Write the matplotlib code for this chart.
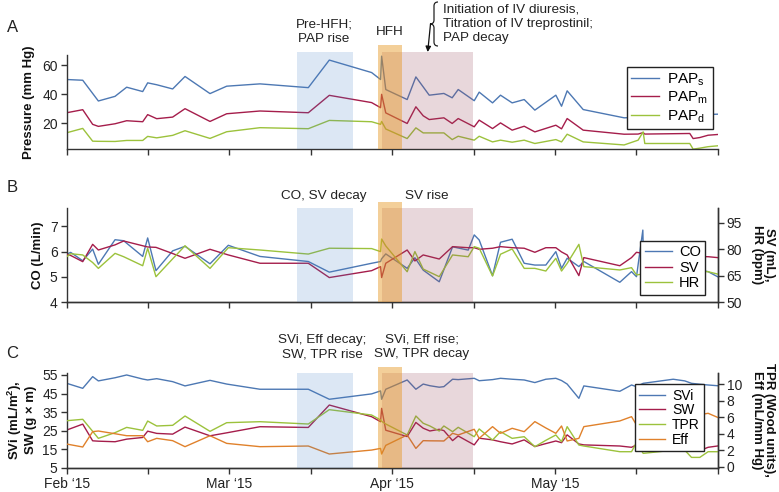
import matplotlib
matplotlib.use("Agg")
import matplotlib.pyplot as plt
from matplotlib.path import Path
from matplotlib.patches import PathPatch, FancyArrowPatch

plt.rcParams['font.family'] = ['Liberation Sans', 'DejaVu Sans']
plt.rcParams['font.size'] = 9.5

# ---------------- data (x in half-month units: 0=Feb '15, 2=Mar, 4=Apr, 6=May) -------------
month_ticks = [0, 1, 2, 3, 4, 5, 6, 7, 8]
month_labels = ["Feb \u201815", "", "Mar \u201815", "", "Apr \u201815", "", "May \u201815", "", ""]

# event windows
prehfh_span = (2.826, 3.514)
hfh_span = (3.828, 4.115)
iv_span = (3.870, 4.995)

# Panel A
t_a = [0, 0.197, 0.319, 0.389, 0.594, 0.737, 0.934, 0.995, 1.106, 1.302, 1.454, 1.761, 1.966,
       2.375, 2.969, 3.227, 3.747, 3.857, 3.870, 3.921, 4.184, 4.291, 4.381, 4.455, 4.635,
       4.737, 4.811, 5.008, 5.069, 5.233, 5.331, 5.474, 5.622, 5.753, 6.011, 6.081, 6.150,
       6.347, 6.85, 7.022, 7.084, 7.104, 7.657, 7.698, 7.780, 7.882, 7.998]
paps = [50.1, 49.6, 40.5, 35.3, 38.5, 44.8, 41.8, 47.8, 46.5, 43.6, 52.2, 40.4, 45.5, 47.1,
        44.5, 63.5, 54.9, 50.1, 66.2, 43.2, 36.3, 51.9, 45.0, 39.3, 40.5, 37.5, 43.2, 35.5,
        41.4, 34.0, 39.3, 34.0, 36.3, 29.0, 39.3, 31.7, 42.3, 29.4, 23.7, 24.0, 25.0, 25.0,
        26.0, 25.0, 25.5, 26.0, 26.2]
papm = [27.2, 29.3, 19.2, 17.8, 19.6, 21.7, 21.0, 25.9, 23.1, 24.2, 30.0, 21.2, 26.5, 28.4,
        27.2, 39.2, 34.2, 30.7, 39.9, 27.1, 19.8, 31.3, 25.1, 22.5, 23.7, 19.8, 23.2, 17.5,
        22.1, 16.3, 20.2, 15.2, 17.9, 14.0, 18.6, 16.1, 23.2, 15.2, 12.4, 12.5, 13.5, 12.5,
        12.9, 9.4, 10.1, 11.7, 12.2]
papd = [13.4, 16.4, 7.6, 7.5, 7.4, 8.1, 8.1, 10.9, 9.9, 11.6, 14.8, 9.5, 14.1, 16.9, 16.2,
        21.9, 21.0, 19.2, 21.2, 16.0, 9.4, 16.8, 13.3, 13.3, 13.3, 8.7, 11.0, 8.3, 11.0, 7.1,
        8.3, 6.9, 8.3, 6.0, 8.7, 7.1, 12.4, 7.1, 5.0, 8.3, 14.0, 6.0, 6.0, 2.1, 2.8, 3.8, 4.4]

# Panel B
t_b = [0, 0.049, 0.197, 0.319, 0.389, 0.594, 0.70, 0.934, 0.995, 1.097, 1.302, 1.454, 1.761,
       1.986, 2.375, 2.969, 3.227, 3.747, 3.857, 3.870, 3.921,
       4.184, 4.279, 4.381, 4.578, 4.742, 4.934, 5.008, 5.069, 5.233, 5.331, 5.474, 5.622,
       5.753, 5.888, 6.011, 6.081, 6.150, 6.294, 6.355, 6.797, 6.941, 7.002, 7.08, 7.09,
       7.3, 7.6, 7.882, 7.998]
co = [5.90, 5.97, 5.64, 6.10, 5.50, 6.47, 6.43, 5.81, 6.54, 5.25, 6.03, 6.21, 5.52, 6.25,
      5.81, 5.61, 5.19, 5.54, 5.61, 5.72, 5.91,
      5.34, 5.76, 5.27, 4.81, 6.19, 6.06, 6.66, 6.46, 5.05, 6.37, 6.49, 5.54, 5.47, 5.47,
      6.0, 5.34, 5.74, 5.41, 5.61, 4.79, 5.21, 5.01, 6.85, 5.5, 5.3, 5.4, 5.21, 5.01]
sv = [77.2, 76.5, 73.0, 82.8, 79.6, 82.5, 84.7, 82.0, 81.3, 81.1, 77.6, 74.9, 80.0, 76.8,
      72.1, 72.1, 64.0, 67.9, 70.2, 64.0, 72.1,
      79.6, 73.4, 76.8, 74.5, 81.5, 80.9, 80.9, 80.0, 80.6, 81.5, 80.9, 80.6, 78.3, 80.9,
      80.9, 78.5, 76.8, 65.1, 75.3, 70.7, 75.3, 78.3, 77.7, 77.5, 76.5, 76.0, 75.8, 75.3]
hr = [75.8, 77.5, 76.8, 72.5, 69.2, 77.7, 75.8, 70.7, 80.6, 64.5, 74.6, 82.0, 69.2, 80.9,
      79.6, 77.3, 80.6, 80.4, 78.7, 85.8, 81.9,
      67.3, 78.7, 68.8, 64.5, 76.8, 75.8, 81.5, 80.6, 64.9, 77.2, 80.2, 69.2, 69.2, 67.7,
      74.9, 67.7, 72.0, 82.8, 70.2, 68.3, 69.6, 65.5, 66.0, 66.5, 67.5, 68.0, 67.3, 66.0]

# Panel C
t_c = [0, 0.197, 0.319, 0.389, 0.594, 0.737, 0.934, 0.995, 1.106, 1.302, 1.454, 1.761, 1.966,
       2.375, 2.969, 3.227, 3.747, 3.857, 3.870, 3.921,
       4.184, 4.291, 4.381, 4.463, 4.578, 4.635, 4.742, 4.811, 5.008, 5.069, 5.233, 5.331,
       5.474, 5.622, 5.753, 5.888, 6.011, 6.081, 6.150, 6.294, 6.355, 6.797, 6.941, 7.002,
       7.084, 7.453, 7.596, 7.678, 7.780, 7.882, 7.998]
svi = [50.5, 47.8, 54.1, 51.8, 53.5, 55.0, 52.8, 52.3, 53.0, 51.4, 49.1, 52.1, 50.1, 47.3,
       47.3, 41.9, 44.8, 46.4, 41.9, 47.3,
       52.3, 47.3, 50.1, 49.2, 48.4, 48.7, 52.7, 52.5, 53.2, 51.9, 52.5, 53.2, 52.7, 52.3,
       50.9, 52.7, 53.2, 52.0, 50.1, 42.4, 49.1, 46.2, 49.6, 48.7, 50.5, 52.7, 51.8, 50.5,
       50.0, 49.6, 49.2]
sw = [25.3, 28.5, 19.5, 19.3, 19.0, 20.4, 21.3, 24.7, 23.5, 23.1, 26.9, 22.2, 23.8, 27.1,
      26.7, 38.8, 32.5, 29.8, 37.0, 25.2,
      21.8, 29.4, 26.3, 24.8, 25.7, 25.0, 19.6, 22.1, 17.3, 20.9, 20.0, 19.0, 17.8, 20.0,
      16.4, 18.0, 19.4, 18.5, 22.7, 17.8, 17.3, 16.7, 16.0, 17.3, 17.0, 16.5, 16.0, 14.2,
      14.2, 16.0, 16.7]
tpr = [5.58, 5.75, 4.29, 3.44, 4.13, 4.77, 4.41, 5.54, 4.94, 5.02, 6.15, 4.29, 5.34, 5.46,
       5.18, 6.92, 6.27, 5.67, 5.5, 5.18,
       3.85, 6.15, 5.27, 4.94, 4.33, 4.94, 4.25, 4.78, 3.64, 4.58, 3.24, 4.25, 3.44, 3.64,
       2.43, 3.2, 3.85, 3.03, 4.86, 2.63, 2.51, 1.82, 1.82, 2.92, 1.62, 2.0, 2.0, 1.13,
       1.13, 1.82, 1.82]
eff = [2.75, 2.39, 4.25, 4.33, 4.0, 3.76, 3.76, 3.03, 3.44, 3.16, 2.43, 3.76, 2.83, 2.43,
       2.51, 1.54, 2.02, 2.22, 1.54, 2.59,
       3.85, 2.22, 3.16, 3.14, 3.13, 3.12, 4.05, 3.85, 4.54, 3.44, 4.86, 4.05, 4.66, 4.25,
       5.47, 4.7, 4.05, 4.94, 3.12, 3.44, 4.86, 5.55, 6.07, 5.07, 5.5, 5.8, 6.0, 6.2, 6.3,
       6.48, 5.99]

# ---------------- styling ----------------
C_BLUE = '#4d78b3'
C_RED = '#a51d4b'
C_GREEN = '#9cc23c'
C_ORANGE = '#e0812b'
SPINE = '#333333'
LW = 1.0

W, H = 779, 492
fig = plt.figure(figsize=(W / 100, H / 100), dpi=100)


def fx(x):
    return x / W


def fy(y):
    return 1 - y / H


def make_axes(top, bottom):
    return fig.add_axes([fx(66.7), fy(bottom), fx(717.7) - fx(66.7), (bottom - top) / H])


def style(ax, right=False):
    ax.set_xlim(0, 8)
    ax.set_xticks(month_ticks)
    ax.spines['top'].set_visible(False)
    ax.spines['right'].set_visible(right)
    for s in ['left', 'bottom', 'right']:
        ax.spines[s].set_color(SPINE)
        ax.spines[s].set_linewidth(1.0)
    ax.tick_params(direction='out', length=4.5, width=1.0, color=SPINE, labelsize=10,
                   labelcolor='#222222', pad=2)


def spans(ax, top_other, top_hfh):
    ax.axvspan(*prehfh_span, ymin=0, ymax=top_other, color='#4a82c6', alpha=0.19, lw=0,
               clip_on=False, zorder=5)
    ax.axvspan(*iv_span, ymin=0, ymax=top_other, color='#9a4a5c', alpha=0.22, lw=0,
               clip_on=False, zorder=5)
    ax.axvspan(*hfh_span, ymin=0, ymax=top_hfh, color='#e6961e', alpha=0.45, lw=0,
               clip_on=False, zorder=6)


def legend(ax, handles, labels, anchor, fs=10.5, spacing=0.15):
    lg = ax.legend(handles, labels, loc='upper left', bbox_to_anchor=anchor,
                   fancybox=False, framealpha=1, edgecolor='#222222', fontsize=fs,
                   handlelength=1.85, handletextpad=0.5, borderpad=0.3, labelspacing=spacing,
                   borderaxespad=0)
    lg.get_frame().set_linewidth(1.0)
    lg.set_zorder(20)
    return lg


# ---------------- Panel A ----------------
axA = make_axes(55, 149.3)
style(axA)
axA.set_ylim(2, 67)
axA.set_yticks([20, 40, 60])
axA.set_xticklabels([])
la1, = axA.plot(t_a, paps, color=C_BLUE, lw=LW)
la2, = axA.plot(t_a, papm, color=C_RED, lw=LW)
la3, = axA.plot(t_a, papd, color=C_GREEN, lw=LW)
spans(axA, 1 + 3.3 / 94.3, 1 + 10 / 94.3)
legend(axA, [la1, la2, la3], ['PAP$_\\mathregular{s}$', 'PAP$_\\mathregular{m}$',
                              'PAP$_\\mathregular{d}$'], (0.860, 0.873), fs=11, spacing=0.1)

# ---------------- Panel B ----------------
axB = make_axes(208.3, 302.3)
style(axB, right=True)
axB.set_ylim(4, 7.71)
axB.set_yticks([4, 5, 6, 7])
axB.set_xticklabels([])
axB2 = axB.twinx()
style(axB2, right=True)
axB2.spines['left'].set_visible(False)
axB2.set_ylim(50, 103.2)
axB2.set_yticks([50, 65, 80, 95])
lb1, = axB.plot(t_b, co, color=C_BLUE, lw=LW)
lb2, = axB2.plot(t_b, sv, color=C_RED, lw=LW)
lb3, = axB2.plot(t_b, hr, color=C_GREEN, lw=LW)
spans(axB2, 1.0, 1 + 6 / 94)
legend(axB2, [lb1, lb2, lb3], ['CO', 'SV', 'HR'], (0.881, 0.652), fs=10.5, spacing=0.1)

# ---------------- Panel C ----------------
axC = make_axes(373.3, 467.7)
style(axC, right=True)
axC.set_ylim(5, 55.9)
axC.set_yticks([5, 15, 25, 35, 45, 55])
axC.set_xticklabels(month_labels)
axC2 = axC.twinx()
style(axC2, right=True)
axC2.spines['left'].set_visible(False)
axC2.set_ylim(-0.12, 11.33)
axC2.set_yticks([0, 2, 4, 6, 8, 10])
lc1, = axC.plot(t_c, svi, color=C_BLUE, lw=LW)
lc2, = axC.plot(t_c, sw, color=C_RED, lw=LW)
lc3, = axC2.plot(t_c, tpr, color=C_GREEN, lw=LW)
lc4, = axC2.plot(t_c, eff, color=C_ORANGE, lw=LW)
spans(axC2, 1.0, 1 + 6.6 / 94.4)
legend(axC2, [lc1, lc2, lc3, lc4], ['SVi', 'SW', 'TPR', 'Eff'], (0.873, 0.883), fs=10,
       spacing=0.05)

# ---------------- labels ----------------
bold = dict(fontweight='bold', fontsize=9.5, color='#111111')
fig.text(fx(29), fy(102), 'Pressure (mm Hg)', rotation=90, ha='center', va='center', **bold)
fig.text(fx(37.5), fy(255), 'CO (L/min)', rotation=90, ha='center', va='center', **bold)
fig.text(fx(763), fy(255), 'SV (mL),\nHR (bpm)', rotation=270, ha='center', va='center',
         linespacing=1.1, **bold)
fig.text(fx(21), fy(420), 'SVi (mL/m$^\\mathregular{2}$),\nSW (g \u00d7 m)', rotation=90,
         ha='center', va='center', linespacing=1.1, **bold)
fig.text(fx(763), fy(420), 'TPR (Wood units),\nEff (mL/mm Hg)', rotation=270, ha='center',
         va='center', linespacing=1.1, **bold)

for letter, y in [('A', 27), ('B', 187.5), ('C', 354)]:
    fig.text(fx(12.5), fy(y), letter, ha='center', va='center', fontsize=12, color='#222222')

ann = dict(fontsize=9.7, color='#222222', linespacing=1.25)
fig.text(fx(324), fy(31.5), 'Pre-HFH;\nPAP rise', ha='center', va='center', **ann)
fig.text(fx(390), fy(32), 'HFH', ha='center', va='center', **ann)
fig.text(fx(443), fy(24), 'Initiation of IV diuresis,\nTitration of IV treprostinil;\nPAP decay',
         ha='left', va='center', **ann)
fig.text(fx(324), fy(196), 'CO, SV decay', ha='center', va='center', **ann)
fig.text(fx(427), fy(196), 'SV rise', ha='center', va='center', **ann)
fig.text(fx(322), fy(347), 'SVi, Eff decay;\nSW, TPR rise', ha='center', va='center', **ann)
fig.text(fx(422), fy(347), 'SVi, Eff rise;\nSW, TPR decay', ha='center', va='center', **ann)

# curly brace + arrow
pts = [(438, 2), (434, 2), (434, 6), (434, 20), (434, 24), (430, 24), (434, 24), (434, 28),
       (434, 42), (434, 46), (438, 46)]
codes = [Path.MOVETO, Path.CURVE3, Path.CURVE3, Path.LINETO, Path.CURVE3, Path.CURVE3,
         Path.CURVE3, Path.CURVE3, Path.LINETO, Path.CURVE3, Path.CURVE3]
brace = PathPatch(Path([(fx(x), fy(y)) for x, y in pts], codes), transform=fig.transFigure,
                  fill=False, lw=0.9, color='#222222')
fig.patches.append(brace)
arr = FancyArrowPatch((fx(430.5), fy(24)), (fx(427.7), fy(52)), transform=fig.transFigure,
                      arrowstyle='-|>', mutation_scale=8, lw=0.9, color='#111111',
                      shrinkA=0, shrinkB=0)
fig.patches.append(arr)

fig.savefig('out.png', dpi=100)
